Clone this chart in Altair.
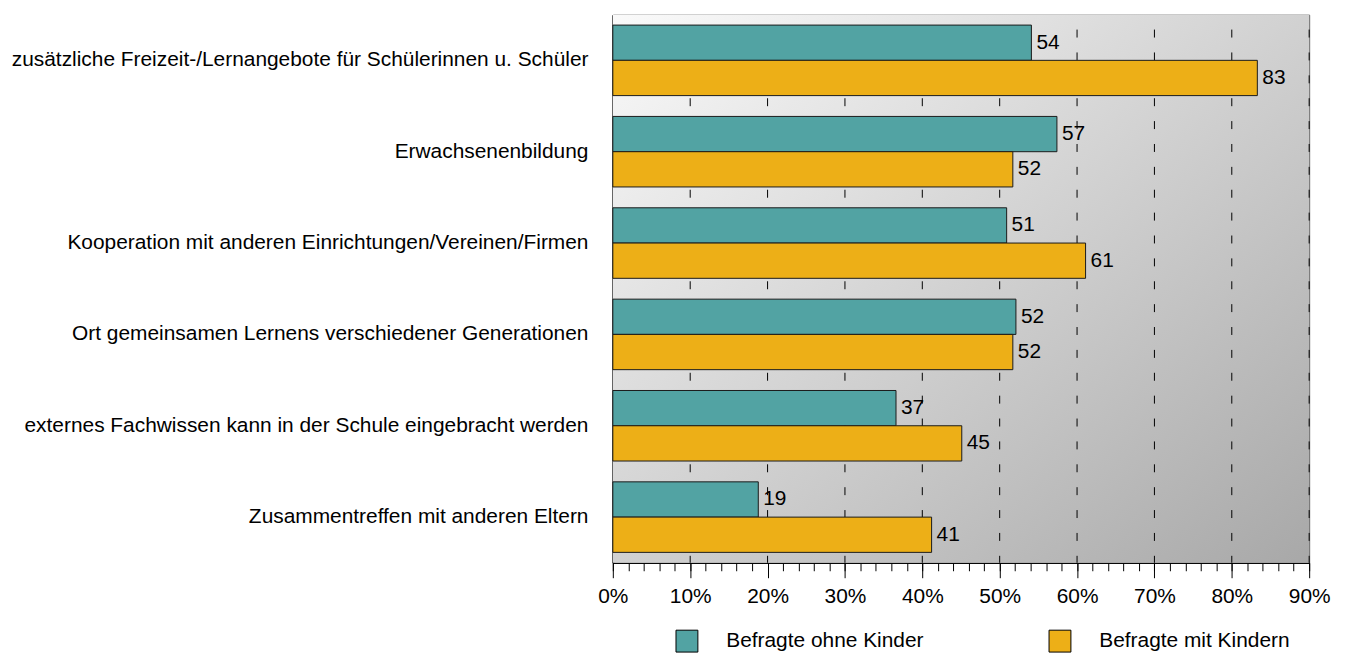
import altair as alt
import pandas as pd

categories = [
    "zusätzliche Freizeit-/Lernangebote für Schülerinnen u. Schüler",
    "Erwachsenenbildung",
    "Kooperation mit anderen Einrichtungen/Vereinen/Firmen",
    "Ort gemeinsamen Lernens verschiedener Generationen",
    "externes Fachwissen kann in der Schule eingebracht werden",
    "Zusammentreffen mit anderen Eltern",
]
series = ["Befragte ohne Kinder", "Befragte mit Kindern"]
ohne_kinder = [54.1, 57.4, 50.9, 52.1, 36.6, 18.8]
mit_kindern = [83.3, 51.7, 61.1, 51.7, 45.1, 41.2]
major_ticks = list(range(0, 91, 10))
minor_ticks = list(range(0, 91, 2))
grid_values = list(range(10, 91, 10))
colors = ["#52a3a3", "#edaf17"]

rows = []
for c, a, b in zip(categories, ohne_kinder, mit_kindern):
    rows.append({"cat": c, "series": series[0], "value": a})
    rows.append({"cat": c, "series": series[1], "value": b})
df = pd.DataFrame(rows)

FONT = "Liberation Sans"
FS = 21
xscale = alt.Scale(domain=[0, 90], nice=False, zero=True)
yscale = alt.Scale(domain=categories, paddingInner=0.228, paddingOuter=0.114)

bg = alt.Chart(pd.DataFrame({"a": [0]})).mark_rect(
    fill=alt.LinearGradient(
        gradient="linear",
        stops=[alt.GradientStop(offset=0, color="#fafafa"),
               alt.GradientStop(offset=1, color="#a8a8a8")],
        x1=0, y1=0, x2=1, y2=1,
    )
).encode(x=alt.value(0), x2=alt.value("width"), y=alt.value(0), y2=alt.value("height"))

grid = alt.Chart(pd.DataFrame({"g": grid_values})).mark_rule(
    color="black", strokeDash=[8, 15], strokeDashOffset=8, strokeWidth=1
).encode(
    x=alt.X("g:Q", scale=xscale, axis=alt.Axis(
        values=minor_ticks, tickSize=8, tickColor="black", labels=False,
        domain=True, domainColor="black", grid=False, orient="bottom", title=None))
)

yaxis = alt.Axis(
    title=None, ticks=False, labelFontSize=FS, labelFont=FONT, labelColor="black",
    labelPadding=25, labelLimit=1000, domainColor="black", domainWidth=2)
yoff = alt.YOffset("series:N", sort=series, scale=alt.Scale(paddingInner=0, paddingOuter=0))

bars = alt.Chart(df).mark_bar(stroke="#1a1a1a", strokeWidth=1).encode(
    y=alt.Y("cat:N", scale=yscale, sort=categories, axis=yaxis),
    yOffset=yoff,
    x=alt.X("value:Q", scale=xscale, axis=alt.Axis(
        values=major_ticks, labelExpr="datum.value + '%'", tickSize=15, tickColor="black",
        domainColor="black", labelFontSize=FS, labelFont=FONT, labelColor="black",
        labelPadding=8, grid=False, title=None, orient="bottom", labelFlush=False,
        labelOverlap=False)),
    fill=alt.Fill("series:N", scale=alt.Scale(domain=series, range=colors), legend=alt.Legend(
        orient="none", legendX=63, legendY=618, direction="horizontal", title=None,
        symbolType="square", symbolSize=484, symbolStrokeColor="black", symbolStrokeWidth=1,
        labelFontSize=FS, labelFont=FONT, labelColor="black", labelOffset=28,
        labelLimit=400, columnPadding=123)),
)

text = alt.Chart(df).mark_text(
    align="left", baseline="middle", dx=5, fontSize=FS, font=FONT, color="black"
).encode(
    y=alt.Y("cat:N", scale=yscale, sort=categories, axis=yaxis),
    yOffset=yoff,
    x=alt.X("value:Q", scale=xscale, axis=None),
    text=alt.Text("value:Q", format=".0f"),
)

chart = alt.layer(bg, grid, bars, text).resolve_axis(x="independent").properties(
    width=700, height=551,
    padding={"left": 2, "top": 4, "right": 10, "bottom": 0},
).configure_view(stroke="#555555", strokeWidth=1)

chart.save("out.html", embed_options={"renderer": "svg", "actions": False})
